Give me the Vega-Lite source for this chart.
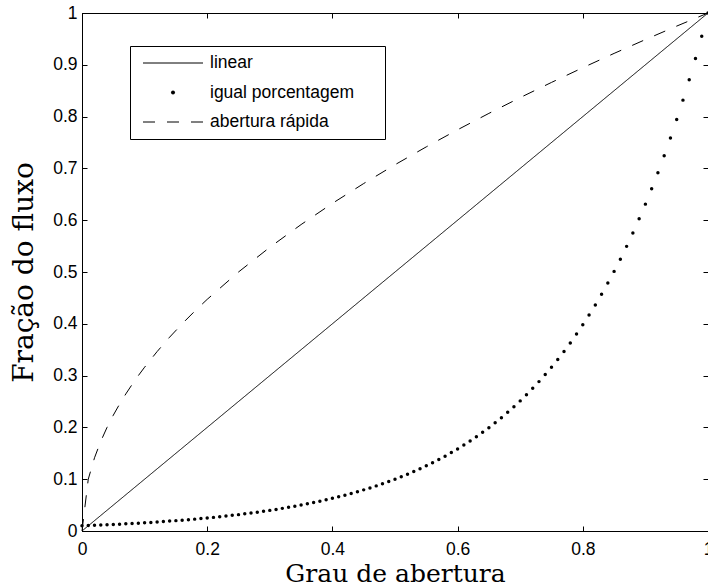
{
  "$schema": "https://vega.github.io/schema/vega-lite/v6.json",
  "width": 626,
  "height": 518,
  "autosize": "none",
  "padding": {"left": 82, "top": 13, "right": 0, "bottom": 57},
  "background": "white",
  "config": {
    "view": {"stroke": "black", "strokeWidth": 1},
    "font": "Liberation Sans",
    "legend": {"symbolSize": 3600, "symbolType": "stroke", "clipHeight": 18, "labelLimit": 400},
    "axis": {
      "grid": false,
      "domainColor": "black",
      "domainWidth": 1,
      "tickColor": "black",
      "tickWidth": 1,
      "tickSize": -5,
      "labelColor": "black",
      "titleColor": "black",
      "labelFont": "Liberation Sans",
      "labelFontSize": 17.5,
      "titleFont": "DejaVu Serif",
      "titleFontSize": 25,
      "titleFontWeight": "normal",
      "labelFlush": false,
      "labelOverlap": false
    }
  },
  "datasets": {
    "curvas": [
      {"serie": "linear", "x": 0, "y": 0},
      {"serie": "linear", "x": 1, "y": 1},
      {"serie": "abertura rápida", "x": 0, "y": 0},
      {"serie": "abertura rápida", "x": 0.01, "y": 0.1},
      {"serie": "abertura rápida", "x": 0.02, "y": 0.1414},
      {"serie": "abertura rápida", "x": 0.03, "y": 0.1732},
      {"serie": "abertura rápida", "x": 0.04, "y": 0.2},
      {"serie": "abertura rápida", "x": 0.05, "y": 0.2236},
      {"serie": "abertura rápida", "x": 0.06, "y": 0.2449},
      {"serie": "abertura rápida", "x": 0.07, "y": 0.2646},
      {"serie": "abertura rápida", "x": 0.08, "y": 0.2828},
      {"serie": "abertura rápida", "x": 0.09, "y": 0.3},
      {"serie": "abertura rápida", "x": 0.1, "y": 0.3162},
      {"serie": "abertura rápida", "x": 0.12, "y": 0.3464},
      {"serie": "abertura rápida", "x": 0.14, "y": 0.3742},
      {"serie": "abertura rápida", "x": 0.16, "y": 0.4},
      {"serie": "abertura rápida", "x": 0.18, "y": 0.4243},
      {"serie": "abertura rápida", "x": 0.2, "y": 0.4472},
      {"serie": "abertura rápida", "x": 0.25, "y": 0.5},
      {"serie": "abertura rápida", "x": 0.3, "y": 0.5477},
      {"serie": "abertura rápida", "x": 0.35, "y": 0.5916},
      {"serie": "abertura rápida", "x": 0.4, "y": 0.6325},
      {"serie": "abertura rápida", "x": 0.45, "y": 0.6708},
      {"serie": "abertura rápida", "x": 0.5, "y": 0.7071},
      {"serie": "abertura rápida", "x": 0.55, "y": 0.7416},
      {"serie": "abertura rápida", "x": 0.6, "y": 0.7746},
      {"serie": "abertura rápida", "x": 0.65, "y": 0.8062},
      {"serie": "abertura rápida", "x": 0.7, "y": 0.8367},
      {"serie": "abertura rápida", "x": 0.75, "y": 0.866},
      {"serie": "abertura rápida", "x": 0.8, "y": 0.8944},
      {"serie": "abertura rápida", "x": 0.85, "y": 0.922},
      {"serie": "abertura rápida", "x": 0.9, "y": 0.9487},
      {"serie": "abertura rápida", "x": 0.95, "y": 0.9747},
      {"serie": "abertura rápida", "x": 1, "y": 1}
    ],
    "igual": [
      {"x": 0, "y": 0.01}, {"x": 0.01, "y": 0.0105}, {"x": 0.02, "y": 0.011}, {"x": 0.03, "y": 0.0115},
      {"x": 0.04, "y": 0.012}, {"x": 0.05, "y": 0.0126}, {"x": 0.06, "y": 0.0132}, {"x": 0.07, "y": 0.0138},
      {"x": 0.08, "y": 0.0145}, {"x": 0.09, "y": 0.0151}, {"x": 0.1, "y": 0.0158}, {"x": 0.11, "y": 0.0166},
      {"x": 0.12, "y": 0.0174}, {"x": 0.13, "y": 0.0182}, {"x": 0.14, "y": 0.0191}, {"x": 0.15, "y": 0.02},
      {"x": 0.16, "y": 0.0209}, {"x": 0.17, "y": 0.0219}, {"x": 0.18, "y": 0.0229}, {"x": 0.19, "y": 0.024},
      {"x": 0.2, "y": 0.0251}, {"x": 0.21, "y": 0.0263}, {"x": 0.22, "y": 0.0275}, {"x": 0.23, "y": 0.0288},
      {"x": 0.24, "y": 0.0302}, {"x": 0.25, "y": 0.0316}, {"x": 0.26, "y": 0.0331}, {"x": 0.27, "y": 0.0347},
      {"x": 0.28, "y": 0.0363}, {"x": 0.29, "y": 0.038}, {"x": 0.3, "y": 0.0398}, {"x": 0.31, "y": 0.0417},
      {"x": 0.32, "y": 0.0437}, {"x": 0.33, "y": 0.0457}, {"x": 0.34, "y": 0.0479}, {"x": 0.35, "y": 0.0501},
      {"x": 0.36, "y": 0.0525}, {"x": 0.37, "y": 0.055}, {"x": 0.38, "y": 0.0575}, {"x": 0.39, "y": 0.0603},
      {"x": 0.4, "y": 0.0631}, {"x": 0.41, "y": 0.0661}, {"x": 0.42, "y": 0.0692}, {"x": 0.43, "y": 0.0724},
      {"x": 0.44, "y": 0.0759}, {"x": 0.45, "y": 0.0794}, {"x": 0.46, "y": 0.0832}, {"x": 0.47, "y": 0.0871},
      {"x": 0.48, "y": 0.0912}, {"x": 0.49, "y": 0.0955}, {"x": 0.5, "y": 0.1}, {"x": 0.51, "y": 0.1047},
      {"x": 0.52, "y": 0.1096}, {"x": 0.53, "y": 0.1148}, {"x": 0.54, "y": 0.1202}, {"x": 0.55, "y": 0.1259},
      {"x": 0.56, "y": 0.1318}, {"x": 0.57, "y": 0.138}, {"x": 0.58, "y": 0.1445}, {"x": 0.59, "y": 0.1514},
      {"x": 0.6, "y": 0.1585}, {"x": 0.61, "y": 0.166}, {"x": 0.62, "y": 0.1738}, {"x": 0.63, "y": 0.182},
      {"x": 0.64, "y": 0.1905}, {"x": 0.65, "y": 0.1995}, {"x": 0.66, "y": 0.2089}, {"x": 0.67, "y": 0.2188},
      {"x": 0.68, "y": 0.2291}, {"x": 0.69, "y": 0.2399}, {"x": 0.7, "y": 0.2512}, {"x": 0.71, "y": 0.263},
      {"x": 0.72, "y": 0.2754}, {"x": 0.73, "y": 0.2884}, {"x": 0.74, "y": 0.302}, {"x": 0.75, "y": 0.3162},
      {"x": 0.76, "y": 0.3311}, {"x": 0.77, "y": 0.3467}, {"x": 0.78, "y": 0.3631}, {"x": 0.79, "y": 0.3802},
      {"x": 0.8, "y": 0.3981}, {"x": 0.81, "y": 0.4169}, {"x": 0.82, "y": 0.4365}, {"x": 0.83, "y": 0.4571},
      {"x": 0.84, "y": 0.4786}, {"x": 0.85, "y": 0.5012}, {"x": 0.86, "y": 0.5248}, {"x": 0.87, "y": 0.5495},
      {"x": 0.88, "y": 0.5754}, {"x": 0.89, "y": 0.6026}, {"x": 0.9, "y": 0.631}, {"x": 0.91, "y": 0.6607},
      {"x": 0.92, "y": 0.6918}, {"x": 0.93, "y": 0.7244}, {"x": 0.94, "y": 0.7586}, {"x": 0.95, "y": 0.7943},
      {"x": 0.96, "y": 0.8318}, {"x": 0.97, "y": 0.871}, {"x": 0.98, "y": 0.912}, {"x": 0.99, "y": 0.955},
      {"x": 1, "y": 1}
    ]
  },
  "layer": [
    {
      "data": {"name": "curvas"},
      "mark": {"type": "line", "color": "black"},
      "encoding": {
        "x": {
          "field": "x", "type": "quantitative",
          "scale": {"domain": [0, 1], "nice": false, "zero": false},
          "axis": {"values": [0, 0.2, 0.4, 0.6, 0.8, 1], "format": ".1~f", "title": "Grau de abertura", "labelPadding": 14, "titlePadding": 4}
        },
        "y": {
          "field": "y", "type": "quantitative",
          "scale": {"domain": [0, 1], "nice": false, "zero": false},
          "axis": {"values": [0, 0.1, 0.2, 0.3, 0.4, 0.5, 0.6, 0.7, 0.8, 0.9, 1], "format": ".1~f", "title": "Fração do fluxo", "titleFontSize": 28, "labelPadding": 10, "titlePadding": 14}
        },
        "strokeDash": {
          "field": "serie", "type": "nominal",
          "scale": {"domain": ["linear", "igual porcentagem", "abertura rápida"], "range": [[1, 0], [0, 100], [12, 12]]},
          "legend": {
            "orient": "none",
            "legendX": 48,
            "legendY": 33,
            "title": null,
            "direction": "vertical",
            "strokeColor": "black",
            "fillColor": "white",
            "padding": 8,
            "symbolOffset": 3,
            "symbolType": "stroke",
            "symbolSize": 3600,
            "clipHeight": 18,
            "symbolStrokeColor": "black",
            "labelFont": "Liberation Sans",
            "labelFontSize": 17.5,
            "labelColor": "black",
            "labelOffset": 5,
            "labelLimit": 400,
            "rowPadding": 11.5,
            "labelExpr": "datum.label + '\u00a0\u00a0\u2800'",
            "encode": {
              "symbols": {
                "update": {
                  "strokeDash": {"signal": "datum.value === 'igual porcentagem' ? [0, 100] : datum.value === 'abertura rápida' ? [9, 10.5] : [1, 0]"},
                  "strokeDashOffset": {"signal": "datum.value === 'igual porcentagem' ? -30 : 0"},
                  "strokeCap": {"signal": "datum.value === 'igual porcentagem' ? 'round' : 'butt'"}
                }
              }
            }
          }
        },
        "strokeWidth": {
          "field": "serie", "type": "nominal",
          "scale": {"type": "ordinal", "domain": ["linear", "igual porcentagem", "abertura rápida"], "range": [1, 4, 1]},
          "legend": {
            "orient": "none",
            "legendX": 48,
            "legendY": 33,
            "title": null,
            "direction": "vertical",
            "strokeColor": "black",
            "fillColor": "white",
            "padding": 8,
            "symbolOffset": 3,
            "symbolType": "stroke",
            "symbolSize": 3600,
            "clipHeight": 18,
            "symbolStrokeColor": "black",
            "labelFont": "Liberation Sans",
            "labelFontSize": 17.5,
            "labelColor": "black",
            "labelOffset": 5,
            "labelLimit": 400,
            "rowPadding": 11.5,
            "labelExpr": "datum.label + '\u00a0\u00a0\u2800'"
          }
        }
      }
    },
    {
      "data": {"name": "igual"},
      "mark": {"type": "circle", "color": "black", "size": 12, "opacity": 1},
      "encoding": {
        "x": {
          "field": "x", "type": "quantitative",
          "scale": {"domain": [0, 1], "nice": false, "zero": false},
          "axis": {"orient": "top", "values": [0, 0.2, 0.4, 0.6, 0.8, 1], "labels": false, "title": null}
        },
        "y": {
          "field": "y", "type": "quantitative",
          "scale": {"domain": [0, 1], "nice": false, "zero": false},
          "axis": {"orient": "right", "values": [0, 0.1, 0.2, 0.3, 0.4, 0.5, 0.6, 0.7, 0.8, 0.9, 1], "labels": false, "title": null}
        }
      }
    }
  ],
  "resolve": {"axis": {"x": "independent", "y": "independent"}}
}
